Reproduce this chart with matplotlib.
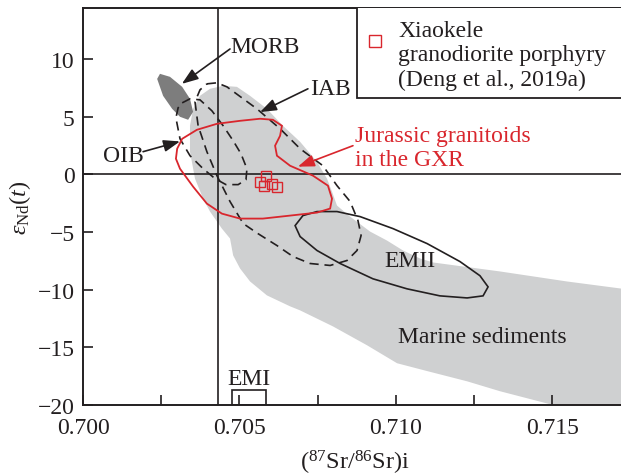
import numpy as np
import matplotlib
matplotlib.use("Agg")
import matplotlib.pyplot as plt
from matplotlib.patches import Polygon, Rectangle

plt.rcParams['font.family'] = ['Liberation Serif', 'DejaVu Serif']
plt.rcParams['mathtext.fontset'] = 'custom'
plt.rcParams['mathtext.rm'] = 'Liberation Serif'
plt.rcParams['mathtext.it'] = 'Liberation Serif:italic'

# field outlines: (87Sr/86Sr)i , eNd(t)
mantle_sed_x = [0.70374, 0.70406, 0.70448, 0.70492, 0.70534, 0.70588, 0.70639, 0.70694, 0.70748,
                0.70780, 0.70796, 0.70812, 0.70854, 0.70918, 0.70972, 0.71023, 0.71077, 0.71119,
                0.71333, 0.71547, 0.7180, 0.7180, 0.71499, 0.71333, 0.71228, 0.71100, 0.71004,
                0.70908, 0.70799, 0.70694, 0.70662, 0.70588, 0.70534, 0.70502, 0.70480, 0.70470,
                0.70444, 0.70406, 0.70384, 0.70358, 0.70342, 0.70342, 0.70352]
mantle_sed_y = [6.82, 7.43, 7.69, 7.60, 6.82, 5.69, 4.22, 2.83, 1.09,
                -0.37, -1.50, -2.71, -3.67, -4.97, -5.75, -6.61, -7.30, -7.65,
                -8.43, -9.30, -10.2, -20.0, -20.0, -18.83, -17.97, -17.08, -16.40,
                -14.84, -13.20, -11.81, -11.46, -10.51, -9.30, -8.17, -7.04, -5.57,
                -4.71, -3.23, -2.11, -0.37, 1.97, 4.22, 5.69]

morb_x = [0.70246, 0.70278, 0.70317, 0.70342, 0.70352, 0.70336, 0.70310, 0.70285, 0.70256,
          0.70237]
morb_y = [8.73, 8.47, 7.60, 6.56, 5.43, 4.74, 5.00, 5.69, 6.82, 8.29]

oib_x = [0.70317, 0.70342, 0.70374, 0.70412, 0.70448, 0.70480, 0.70505, 0.70524, 0.70521,
         0.70496, 0.70457, 0.70422, 0.70384, 0.70342, 0.70310, 0.70297, 0.70304]
oib_y = [6.21, 6.56, 6.47, 5.52, 4.22, 2.92, 1.79, 0.49, -0.46, -0.89, -0.89, -0.37, 0.49,
         1.62, 3.09, 4.90, 5.78]

iab_x = [0.70396, 0.70428, 0.70460, 0.70556, 0.70630, 0.70694, 0.70767, 0.70812, 0.70854,
         0.70879, 0.70889, 0.70876, 0.70844, 0.70790, 0.70726, 0.70671, 0.70620, 0.70559,
         0.70512, 0.70470, 0.70428, 0.70396, 0.70368, 0.70358, 0.70374]
iab_y = [7.86, 7.95, 7.60, 5.69, 3.96, 2.23, 0.75, -0.98, -2.36, -4.01, -5.31, -6.61, -7.48,
         -7.91, -7.74, -7.13, -6.18, -5.14, -4.27, -2.36, -0.11, 1.97, 4.22, 6.30, 7.34]

emii_x = [0.70678, 0.70703, 0.70748, 0.70812, 0.70886, 0.70991, 0.71100, 0.71205, 0.71269,
          0.71295, 0.71279, 0.71228, 0.71141, 0.71036, 0.70927, 0.70822, 0.70748, 0.70694]
emii_y = [-4.45, -3.58, -3.23, -3.23, -3.67, -4.71, -6.01, -7.57, -8.80, -9.77, -10.55,
          -10.73, -10.55, -9.94, -9.07, -7.74, -6.61, -5.40]

gxr_x = [0.70301, 0.70317, 0.70364, 0.70428, 0.70502, 0.70566, 0.70607, 0.70636, 0.70630,
         0.70614, 0.70620, 0.70662, 0.70735, 0.70783, 0.70796, 0.70790, 0.70748, 0.70662,
         0.70575, 0.70502, 0.70444, 0.70396, 0.70352, 0.70310, 0.70297]
gxr_y = [2.23, 3.09, 3.87, 4.39, 4.65, 4.83, 4.74, 4.22, 3.35, 2.49, 1.62, 0.75, -0.11,
         -0.98, -2.11, -2.97, -3.32, -3.58, -3.84, -3.84, -3.41, -2.54, -1.07, 0.49, 1.36]

# EMI box (x range, top)
emi_x = [0.70475, 0.70584]
emi_top = -18.7

# Xiaokele samples
sr_i = [0.70567, 0.70586, 0.70580, 0.70604, 0.70620]
end_t = [-0.66, -0.18, -0.98, -0.80, -1.09]

bulk_earth_sr = 0.7043
bulk_earth_nd = 0

RED = '#d9262d'
INK = '#231f20'

fig = plt.figure(figsize=(6.21, 4.77), dpi=100)
ax = fig.add_axes([0.1337, 0.1495, 0.8663, 0.8310])
ax.set_xlim(0.700, 0.7172)
ax.set_ylim(-20, 14.42)

ax.add_patch(Polygon(np.column_stack([mantle_sed_x, mantle_sed_y]), closed=True,
                     facecolor='#cfd0d1', edgecolor='none', zorder=1))
ax.add_patch(Polygon(np.column_stack([morb_x, morb_y]), closed=True,
                     facecolor='#7d7d7d', edgecolor='none', zorder=2))

ax.axvline(bulk_earth_sr, color=INK, lw=1.2, zorder=3)
ax.axhline(bulk_earth_nd, color=INK, lw=1.2, zorder=3)

for xs, ys in [(oib_x, oib_y), (iab_x, iab_y)]:
    ax.add_patch(Polygon(np.column_stack([xs, ys]), closed=True, fill=False,
                         edgecolor=INK, lw=1.2, linestyle=(0, (5.5, 3.5)), zorder=4))
ax.add_patch(Polygon(np.column_stack([emii_x, emii_y]), closed=True, fill=False,
                     edgecolor=INK, lw=1.2, zorder=4))
ax.add_patch(Polygon(np.column_stack([gxr_x, gxr_y]), closed=True, fill=False,
                     edgecolor=RED, lw=1.3, zorder=5))
ax.add_patch(Rectangle((emi_x[0], -20), emi_x[1] - emi_x[0], emi_top + 20, fill=False,
                       edgecolor=INK, lw=1.2, zorder=4))

ax.plot(sr_i, end_t, ls='none', marker='s', ms=7, mfc='none', mec=RED, mew=1.0, zorder=6)

# field labels and arrows
fs = 17
ax.text(0.70470, 11.07, 'MORB', fontsize=fs, va='center', color=INK)
ax.text(0.70726, 7.43, 'IAB', fontsize=fs, va='center', color=INK)
ax.text(0.70064, 1.62, 'OIB', fontsize=fs, va='center', color=INK)
ax.text(0.70870, 2.31, 'Jurassic granitoids\nin the GXR', fontsize=fs, va='center',
        color=RED, linespacing=1.2)
ax.text(0.70965, -7.52, 'EMII', fontsize=fs, va='center', color=INK)
ax.text(0.71007, -14.06, 'Marine sediments', fontsize=fs, va='center', color=INK)
ax.text(0.70529, -17.70, 'EMI', fontsize=fs, va='center', ha='center', color=INK)

arrows = [((0.70470, 10.89), (0.70316, 7.86), INK),
          ((0.70719, 7.43), (0.70566, 5.41), INK),
          ((0.70192, 1.97), (0.70310, 2.86), INK),
          ((0.70863, 2.49), (0.70687, 0.67), RED)]
for tail, tip, c in arrows:
    ax.annotate('', xy=tip, xytext=tail,
                arrowprops=dict(arrowstyle='-|>,head_length=0.55,head_width=0.2',
                                mutation_scale=18, color=c, lw=1.2,
                                shrinkA=0, shrinkB=0), zorder=7)

# legend box
ax.add_patch(Rectangle((0.70876, 6.65), 0.0100, 10, facecolor='white',
                       edgecolor=INK, lw=1.3, zorder=8))
ax.plot([0.70934], [11.61], marker='s', ms=9, mfc='none', mec=RED, mew=1.0, zorder=9)
ax.text(0.71007, 10.37, 'Xiaokele\ngranodiorite porphyry\n(Deng et al., 2019a)',
        fontsize=fs, va='center', color=INK, linespacing=1.22, zorder=9)

ax.set_xticks([0.700, 0.705, 0.710, 0.715])
ax.set_xticklabels(['0.700', '0.705', '0.710', '0.715'])
ax.set_xticks([0.7025, 0.7075, 0.7125], minor=True)
ax.set_yticks([-20, -15, -10, -5, 0, 5, 10])
ax.tick_params(which='both', direction='in', length=7, width=1.2, labelsize=fs,
               colors=INK, pad=6)
ax.tick_params(axis='x', which='both', pad=9)
for side in ['left', 'bottom', 'top']:
    ax.spines[side].set_linewidth(1.4)
    ax.spines[side].set_color(INK)
ax.spines['right'].set_visible(False)

ax.set_xlabel('($^{87}$Sr/$^{86}$Sr)i', fontsize=17.5, color=INK)
ax.xaxis.set_label_coords(0.506, -0.11)
ax.set_ylabel(r'$\varepsilon_{\mathrm{Nd}}(t)$', fontsize=17.5, color=INK)
ax.yaxis.set_label_coords(-0.093, 0.5)

plt.savefig('out.png', dpi=100)
